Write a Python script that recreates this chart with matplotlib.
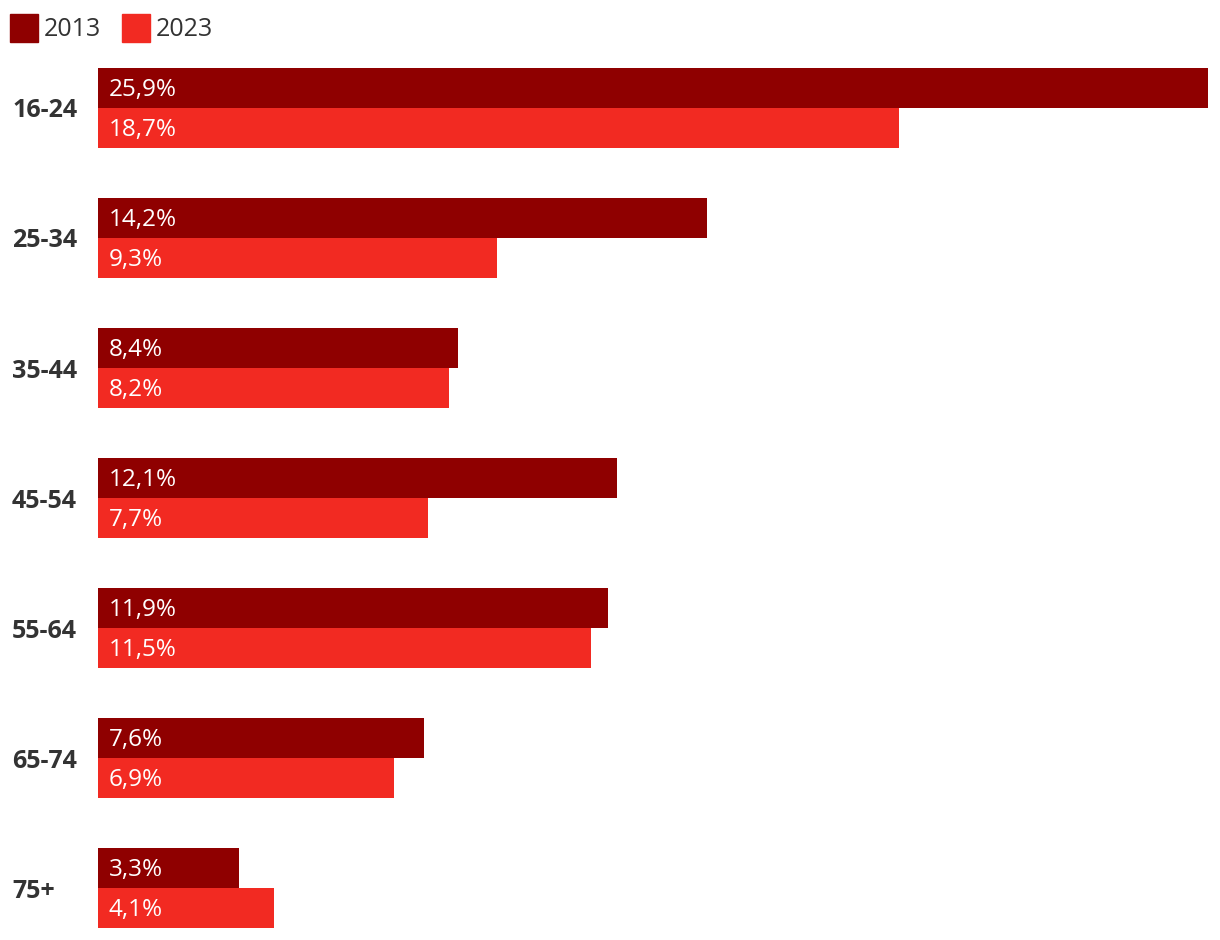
import matplotlib
matplotlib.use("Agg")
import matplotlib.pyplot as plt
from matplotlib.patches import Rectangle

categories = ['16-24', '25-34', '35-44', '45-54', '55-64', '65-74', '75+']
values_2013 = [25.9, 14.2, 8.4, 12.1, 11.9, 7.6, 3.3]
values_2023 = [18.7, 9.3, 8.2, 7.7, 11.5, 6.9, 4.1]
series_names = ['2013', '2023']
colors = ['#8f0000', '#f22a22']

plt.rcParams['font.family'] = ['Open Sans', 'DejaVu Sans']

W, H = 1220, 940
fig = plt.figure(figsize=(W / 100, H / 100), dpi=100)
ax = fig.add_axes([98 / W, 12 / H, 1110 / W, 860 / H])

bar_h = 40 / 130
for i, (v1, v2) in enumerate(zip(values_2013, values_2023)):
    ax.barh(i - bar_h / 2, v1, height=bar_h, color=colors[0], align='center')
    ax.barh(i + bar_h / 2, v2, height=bar_h, color=colors[1], align='center')
    for y, v in ((i - bar_h / 2, v1), (i + bar_h / 2, v2)):
        ax.text(0.25, y - 0.008, f"{v:.1f}".replace('.', ',') + '%', color='white',
                fontsize=17.5, va='center_baseline', ha='left')
    # category label, left aligned near the figure edge
    ax.text(-86 / 1110, i, categories[i], transform=ax.get_yaxis_transform(),
            fontsize=18, fontweight='bold', color='#333333',
            va='center_baseline', ha='left')

ax.set_xlim(0, 25.9)
ax.set_ylim(len(categories) - 1 + bar_h, -bar_h)
ax.set_yticks([])
ax.set_xticks([])
for s in ax.spines.values():
    s.set_visible(False)

# legend
for j, (name, c) in enumerate(zip(series_names, colors)):
    x0 = 10 + j * 112
    fig.patches.append(Rectangle((x0 / W, 1 - 42 / H), 28 / W, 28 / H,
                                 transform=fig.transFigure, color=c))
    fig.text((x0 + 34) / W, 1 - 26 / H, name, fontsize=18, color='#333333',
             va='center_baseline', ha='left')

fig.savefig('out.png', dpi=100)
